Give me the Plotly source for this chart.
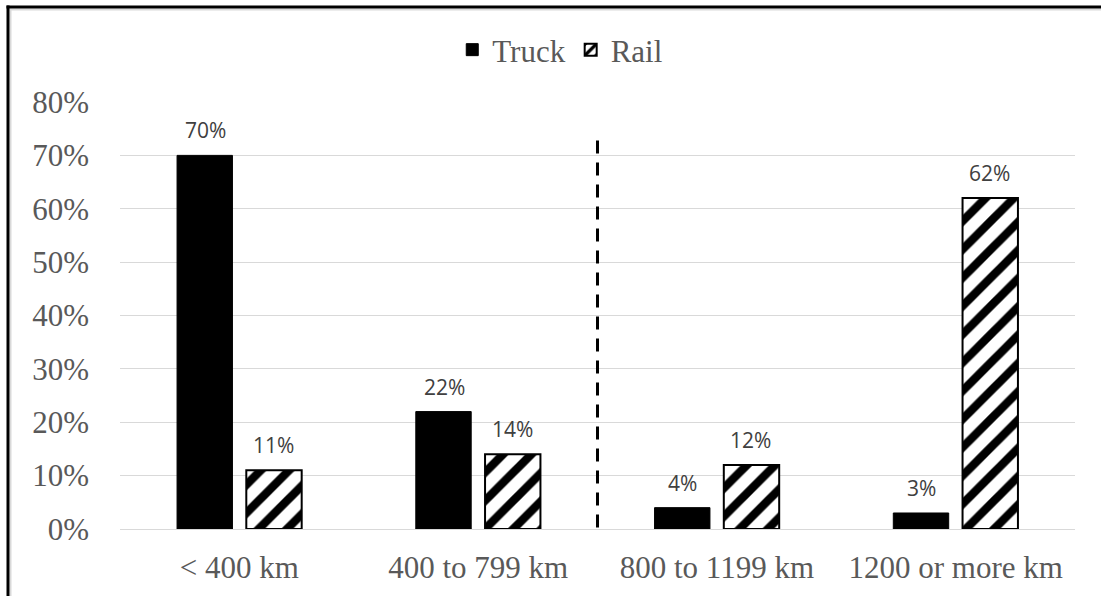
import plotly.graph_objects as go

categories = ["< 400 km", "400 to 799 km", "800 to 1199 km", "1200 or more km"]
truck = [70, 22, 4, 3]
rail = [11, 14, 12, 62]
y_ticks = [0, 10, 20, 30, 40, 50, 60, 70, 80]
y_tick_labels = [f"{v}%" for v in y_ticks]

serif = "Liberation Serif, Times New Roman, serif"
sans = "Open Sans, Liberation Sans, Arial, sans-serif"
W, H = 1101, 596
l, r, t, b = 120, 26, 102, 67
pw, ph = W - l - r, H - t - b

fig = go.Figure()
fig.add_trace(go.Bar(
    name="Truck", x=categories, y=truck,
    marker=dict(color="black", line=dict(color="black", width=1)),
))
fig.add_trace(go.Bar(
    name="Rail", x=categories, y=rail,
    marker=dict(color="white", line=dict(color="black", width=2),
                pattern=dict(shape="/", fgcolor="black", bgcolor="white",
                             fgopacity=1, fillmode="replace",
                             size=20, solidity=0.42)),
))

# value labels above each bar
bar_offset = 34
for series, shift in ((truck, -bar_offset), (rail, bar_offset)):
    for cat, v in zip(categories, series):
        fig.add_annotation(x=cat, y=v, xref="x", yref="y", text=f"{v}%",
                           showarrow=False, xshift=shift, yanchor="bottom", yshift=9,
                           font=dict(family=sans, size=21, color="#404040"))

# dashed divider between the short-haul and long-haul groups
fig.add_shape(type="line", xref="x", yref="y", x0=1.5, x1=1.5, y0=0.3, y1=73,
              line=dict(color="black", width=3, dash="13px,9px"))

fig.update_layout(
    width=W, height=H,
    margin=dict(l=l, r=r, t=t, b=b, autoexpand=False),
    paper_bgcolor="white", plot_bgcolor="white",
    bargap=0.42, bargroupgap=0.2,
    font=dict(family=serif, size=31, color="#595959"),
    legend=dict(orientation="h", x=0.461, xanchor="center",
                y=(H - b - 50) / ph, yanchor="middle",
                bgcolor="rgba(0,0,0,0)",
                font=dict(family=serif, size=31, color="#595959"),
                itemwidth=30, tracegroupgap=0),
    xaxis=dict(showline=True, linecolor="#d9d9d9", linewidth=1, ticks="",
               ticklabelstandoff=11,
               tickfont=dict(family=serif, size=31, color="#595959")),
    yaxis=dict(range=[0, 80], tickvals=y_ticks, ticktext=y_tick_labels,
               showgrid=True, gridcolor="#d9d9d9", gridwidth=1, zeroline=False,
               ticks="", ticklabelstandoff=30,
               tickfont=dict(family=serif, size=31, color="#595959")),
    showlegend=True,
)

# chart frame: top and left edges as thin filled strips
def px(x):
    return (x - l) / pw


def py(y):
    return (H - b - y) / ph


def strip(x0, x1, y0, y1, color):
    fig.add_shape(type="rect", xref="paper", yref="paper",
                  x0=px(x0), x1=px(x1), y0=py(y0), y1=py(y1),
                  line=dict(width=0), fillcolor=color)


strip(9.5, W, 8.5, 10.5, "#d9d9d9")
strip(9.5, 11.5, 8.5, H, "#d9d9d9")
strip(6.5, W, 5.5, 8.5, "black")
strip(6.5, 9.5, 5.5, H, "black")

fig.write_html("out.html")
